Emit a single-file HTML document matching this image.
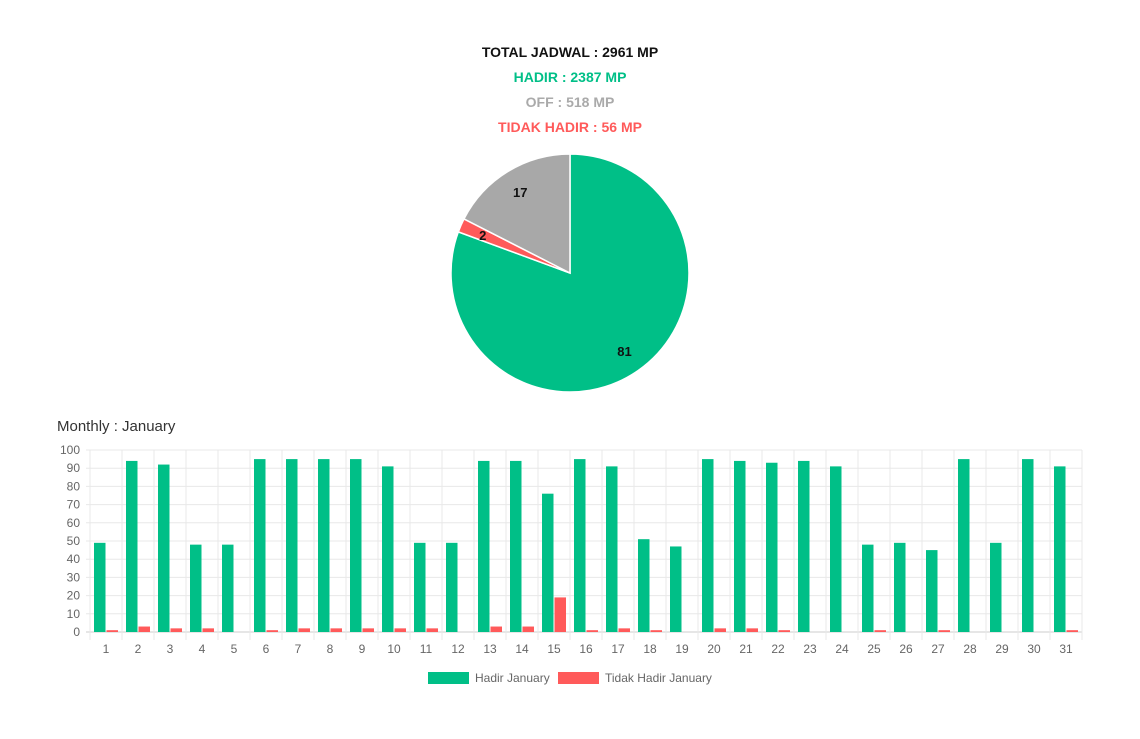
<!DOCTYPE html>
<html><head><meta charset="utf-8"><style>
body{margin:0;background:#fff;width:1140px;height:739px;overflow:hidden;font-family:"Liberation Sans",sans-serif}
.t{position:absolute;left:0;width:1140px;text-align:center;font-weight:bold;font-size:14px}
</style></head><body>
<div class="t" style="top:44px;color:#111">TOTAL JADWAL : 2961 MP</div>
<div class="t" style="top:69px;color:#00bf87">HADIR : 2387 MP</div>
<div class="t" style="top:94px;color:#aaa">OFF : 518 MP</div>
<div class="t" style="top:119px;color:#ff5a5a">TIDAK HADIR : 56 MP</div>
<div style="position:absolute;left:57px;top:418px;font-size:15px;color:#333">Monthly : January</div>
<svg id="s" width="1140" height="739" style="position:absolute;left:0;top:0"></svg>
<script>
const pieLabels=["Hadir","Tidak Hadir","Off"];
const pieValues=[2387,56,518];
const pieColors=["#00bf87","#ff5a5a","#a8a8a8"];
const days=["1","2","3","4","5","6","7","8","9","10","11","12","13","14","15","16","17","18","19","20","21","22","23","24","25","26","27","28","29","30","31"];
const hadir=[49,94,92,48,48,95,95,95,95,91,49,49,94,94,76,95,91,51,47,95,94,93,94,91,48,49,45,95,49,95,91];
const tidak=[1,3,2,2,0,1,2,2,2,2,2,0,3,3,19,1,2,1,0,2,2,1,0,0,1,0,1,0,0,0,1];
const yTicks=[0,10,20,30,40,50,60,70,80,90,100];
const NS="http://www.w3.org/2000/svg",s=document.getElementById('s');
function el(t,a,txt){const e=document.createElementNS(NS,t);for(const k in a)e.setAttribute(k,a[k]);if(txt!=null)e.textContent=txt;s.appendChild(e);return e;}
// pie
const cx=570,cy=273,r=119,tot=pieValues.reduce((a,b)=>a+b,0);
let a0=-Math.PI/2;
pieValues.forEach((v,i)=>{const a1=a0+v/tot*2*Math.PI;
const p=el('path',{d:`M${cx},${cy}L${cx+r*Math.cos(a0)},${cy+r*Math.sin(a0)}A${r},${r} 0 ${a1-a0>Math.PI?1:0} 1 ${cx+r*Math.cos(a1)},${cy+r*Math.sin(a1)}Z`,fill:pieColors[i],stroke:'#fff','stroke-width':1.5});


const m=(a0+a1)/2,lr=r*0.8;
const t=el('text',{x:cx+lr*Math.cos(m),y:cy+lr*Math.sin(m)+5,'text-anchor':'middle','font-size':13,'font-weight':'bold',fill:'#111'},Math.round(v/tot*100));


a0=a1;});
// bar chart
const X0=90,X1=1082,Y0=632,Y1=450,cw=(X1-X0)/days.length;
const y=v=>Y0-(v/100)*(Y0-Y1);
yTicks.forEach(v=>{const g=el('line',{x1:X0-4,x2:X1,y1:y(v),y2:y(v),stroke:v===0?'#ccc':'#e8e8e8'});


const t=el('text',{x:X0-10,y:y(v)+4,'text-anchor':'end','font-size':12,fill:'#666'},v);

});
for(let i=0;i<=days.length;i++){const g=el('line',{x1:X0+i*cw,x2:X0+i*cw,y1:Y1,y2:Y0+8,stroke:'#e8e8e8'});

}
days.forEach((d,i)=>{const c=X0+(i+0.5)*cw,bw=11.5;
const b1=el('rect',{x:c-bw-0.5,y:y(hadir[i]),width:bw,height:Y0-y(hadir[i]),fill:'#00bf87'});


if(tidak[i]>0){const b2=el('rect',{x:c+0.5,y:y(tidak[i]),width:bw,height:Y0-y(tidak[i]),fill:'#ff5a5a'});

}
const t=el('text',{x:c,y:653,'text-anchor':'middle','font-size':12,fill:'#666'},d);

});
// legend
const l1=el('rect',{x:428,y:672,width:41,height:12,fill:'#00bf87'});


const l2=el('text',{x:475,y:682,'font-size':12,fill:'#666'},'Hadir January');


const l3=el('rect',{x:558,y:672,width:41,height:12,fill:'#ff5a5a'});


const l4=el('text',{x:605,y:682,'font-size':12,fill:'#666'},'Tidak Hadir January');


</script>
</body></html>
